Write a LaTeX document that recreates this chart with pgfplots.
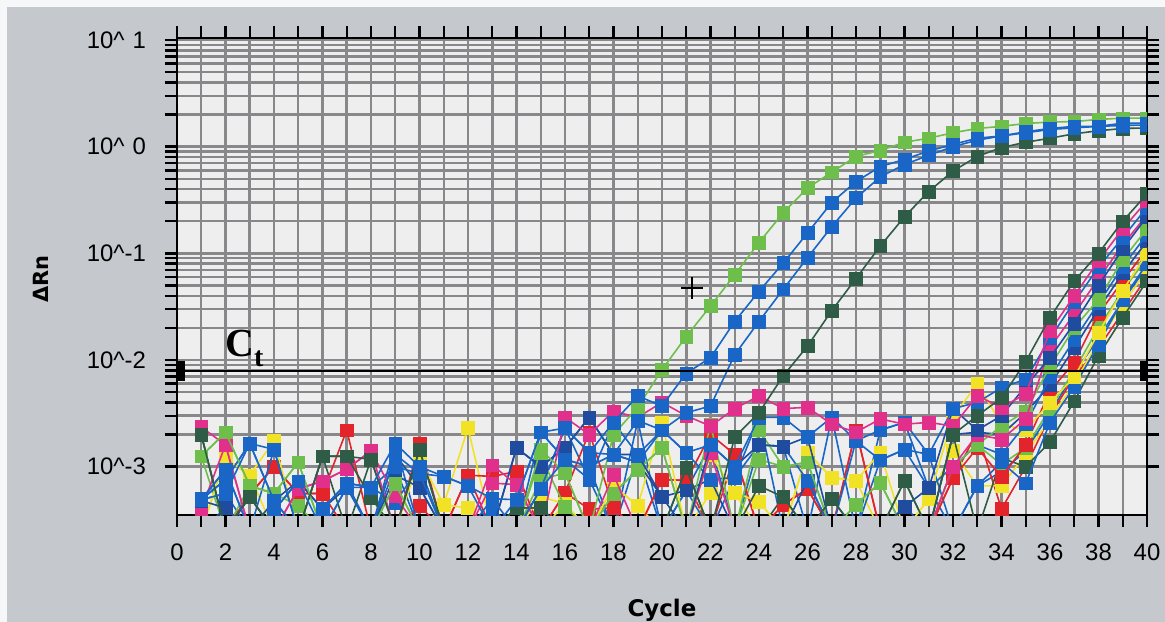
\documentclass[border=0pt]{standalone}
\usepackage{fontspec}
\setmainfont{Liberation Sans}
\newfontfamily\labfont{DejaVu Sans}
\newfontfamily\ctfont{Liberation Serif}
\usepackage{pgfplots}
\pgfplotsset{compat=1.18}
\usepackage{pgfplotstable}

\definecolor{pagegray}{HTML}{C5C8CD}
\definecolor{plotbg}{HTML}{EEEEEF}
\definecolor{gridgray}{HTML}{88888A}
\definecolor{cG}{HTML}{6DBE4B}
\definecolor{cB}{HTML}{1A66C6}
\definecolor{cDB}{HTML}{1F4C9E}
\definecolor{cDG}{HTML}{2F5C46}
\definecolor{cM}{HTML}{E0308C}
\definecolor{cY}{HTML}{F2E226}
\definecolor{cR}{HTML}{E3242B}

\pgfplotstableread{
c E1 E2 E3 E4
1 1.25e-3 4.9e-4 4.9e-4 2.0e-3
2 2.1e-3 5.6e-4 9.4e-4 2.5e-4
3 6.6e-4 1.65e-3 2.5e-4 5.2e-4
4 5.6e-4 4.8e-4 3.9e-4 2.5e-4
5 1.1e-3 2.5e-4 7.3e-4 2.5e-4
6 2.5e-4 4.0e-4 2.5e-4 1.25e-3
7 2.5e-4 7.0e-4 6.4e-4 1.25e-3
8 2.5e-4 6.4e-4 2.5e-4 1.17e-3
9 6.9e-4 1.65e-3 1.3e-3 2.5e-4
10 2.5e-4 1.0e-3 8.6e-4 1.45e-3
11 2.5e-4 8.1e-4 2.5e-4 2.5e-4
12 2.5e-4 6.6e-4 2.5e-4 2.5e-4
13 2.5e-4 5e-4 5e-4 2.5e-4
14 2.5e-4 4.9e-4 2.5e-4 4.1e-4
15 1.45e-3 2.1e-3 6.2e-4 4.1e-4
16 8.7e-4 2.3e-3 1.17e-3 2.5e-4
17 2.5e-4 1.35e-3 1.0e-3 2.5e-4
18 2.0e-3 2.6e-3 1.3e-3 2.5e-4
19 3.6e-3 4.6e-3 2.7e-3 2.5e-4
20 8.1e-3 3.7e-3 2.2e-3 2.5e-4
21 0.0166 7.5e-3 3.2e-3 9.7e-4
22 0.032 0.0105 3.7e-3 2.5e-4
23 0.063 0.023 0.0112 1.9e-3
24 0.126 0.044 0.023 3.2e-3
25 0.24 0.081 0.046 7.1e-3
26 0.41 0.155 0.091 0.0135
27 0.575 0.30 0.178 0.029
28 0.81 0.47 0.33 0.058
29 0.92 0.65 0.52 0.117
30 1.1 0.76 0.68 0.22
31 1.2 0.91 0.83 0.38
32 1.35 1.05 1.0 0.59
33 1.48 1.2 1.15 0.81
34 1.55 1.26 1.26 0.98
35 1.65 1.38 1.35 1.1
36 1.7 1.48 1.45 1.2
37 1.72 1.55 1.5 1.32
38 1.8 1.55 1.55 1.41
39 1.85 1.66 1.58 1.48
40 1.85 1.66 1.6 1.5
}\early

\pgfplotstableread{
c L1 L2 L3 L4 L5 L6 L7 L8 L9 L10 L11 L12 L13 L14 L15 L16
1 2.0e-3 2.35e-3 5.0e-4 4.8e-4 4.0e-4 1.25e-3 4.9e-4 2.5e-4 2.5e-4 2.5e-4 4.9e-4 1.25e-3 2.0e-3 2.5e-4 2.5e-4 4.9e-4
2 2.5e-4 1.6e-3 7.5e-4 4.1e-4 1.6e-3 2.1e-3 9.4e-4 4.1e-4 1.2e-3 2.5e-4 7.5e-4 2.5e-4 2.5e-4 1.2e-3 2.5e-4 5.6e-4
3 5.2e-4 2.5e-4 1.65e-3 2.5e-4 2.5e-4 6.6e-4 2.5e-4 2.5e-4 8.3e-4 5.5e-4 1.65e-3 6.6e-4 5.2e-4 8.3e-4 5.5e-4 2.5e-4
4 2.5e-4 2.5e-4 1.45e-3 4.8e-4 2.5e-4 5.6e-4 1.45e-3 3.9e-4 1.75e-3 1.0e-3 4.8e-4 5.6e-4 2.5e-4 2.5e-4 1.0e-3 3.9e-4
5 2.5e-4 6.2e-4 2.5e-4 7.3e-4 6.2e-4 4.3e-4 2.5e-4 7.3e-4 2.5e-4 5.6e-4 2.5e-4 1.1e-3 2.5e-4 2.5e-4 5.6e-4 2.5e-4
6 1.25e-3 7.3e-4 4.0e-4 4.0e-4 7.3e-4 2.5e-4 2.5e-4 4.0e-4 2.5e-4 5.6e-4 2.5e-4 2.5e-4 1.25e-3 2.5e-4 5.6e-4 4.0e-4
7 1.25e-3 9.5e-4 7.0e-4 6.4e-4 9.5e-4 2.5e-4 6.4e-4 2.5e-4 2.5e-4 2.2e-3 2.5e-4 2.5e-4 2.5e-4 2.5e-4 2.5e-4 7.0e-4
8 5.1e-4 1.4e-3 6.4e-4 2.5e-4 1.4e-3 2.5e-4 6.4e-4 2.5e-4 2.5e-4 2.5e-4 2.5e-4 2.5e-4 1.17e-3 2.5e-4 2.5e-4 2.5e-4
9 2.5e-4 5.3e-4 1.0e-3 8.3e-4 2.5e-4 6.9e-4 4.6e-4 1.3e-3 2.5e-4 2.5e-4 1.65e-3 2.5e-4 2.5e-4 2.5e-4 2.5e-4 1.0e-3
10 1.45e-3 2.5e-4 8.6e-4 6.4e-4 2.5e-4 2.5e-4 1.0e-3 6.4e-4 1.2e-3 1.65e-3 2.5e-4 2.5e-4 2.5e-4 2.5e-4 4.3e-4 2.5e-4
11 2.5e-4 2.5e-4 8.1e-4 2.5e-4 2.5e-4 2.5e-4 2.5e-4 2.5e-4 4.4e-4 2.5e-4 2.5e-4 2.5e-4 2.5e-4 4.4e-4 2.5e-4 2.5e-4
12 2.5e-4 2.5e-4 6.6e-4 2.5e-4 2.5e-4 2.5e-4 2.5e-4 2.5e-4 4.1e-4 8.3e-4 2.5e-4 2.5e-4 2.5e-4 2.3e-3 8.3e-4 2.5e-4
13 2.5e-4 1.03e-3 2.5e-4 2.5e-4 7e-4 2.5e-4 4e-4 2.5e-4 2.5e-4 8.1e-4 2.5e-4 2.5e-4 2.5e-4 2.5e-4 2.5e-4 4e-4
14 4.1e-4 6.8e-4 4.9e-4 1.5e-3 6.8e-4 2.5e-4 2.5e-4 1.5e-3 2.5e-4 9e-4 2.5e-4 2.5e-4 2.5e-4 2.5e-4 2.5e-4 2.5e-4
15 4.1e-4 2.5e-4 2.1e-3 1.0e-3 2.5e-4 1.25e-3 6.2e-4 1.0e-3 5.2e-4 2.5e-4 2.1e-3 7.6e-4 4.1e-4 2.5e-4 2.5e-4 6.2e-4
16 2.5e-4 2.9e-3 1.17e-3 1.5e-3 2.5e-4 4.2e-4 2.3e-3 1.5e-3 4.5e-4 5.7e-4 1.17e-3 8.7e-4 2.5e-4 4.5e-4 5.7e-4 2.3e-3
17 2.5e-4 2.0e-3 7.6e-4 2.9e-3 2.5e-4 2.5e-4 1.35e-3 2.9e-3 2.5e-4 2.1e-3 1.0e-3 2.5e-4 2.5e-4 2.5e-4 4e-4 7.6e-4
18 2.5e-4 3.3e-3 2.6e-3 1.3e-3 8.4e-4 5.6e-4 1.3e-3 1.3e-3 6.6e-4 4.1e-4 2.5e-4 5.6e-4 2.5e-4 6.6e-4 4.1e-4 2.5e-4
19 2.5e-4 2.9e-3 1.3e-3 1.3e-3 2.5e-4 9.4e-4 1.1e-3 1.1e-3 4.3e-4 2.5e-4 2.7e-3 9.4e-4 2.5e-4 4.3e-4 2.5e-4 1.3e-3
20 2.5e-4 4.0e-3 2.2e-3 5.2e-4 2.5e-4 1.5e-3 2.2e-3 5.2e-4 2.6e-3 7.6e-4 2.5e-4 1.5e-3 2.5e-4 2.5e-4 7.6e-4 2.5e-4
21 9.7e-4 3.0e-3 1.35e-3 2.5e-4 2.5e-4 2.5e-4 1.35e-3 6e-4 2.5e-4 7.4e-4 6e-4 2.5e-4 2.5e-4 2.5e-4 7.4e-4 6e-4
22 2.5e-4 2.4e-3 1.6e-3 1.6e-3 1.35e-3 2.5e-3 7.6e-4 7.6e-4 1.3e-3 2.0e-3 2.5e-4 2.5e-4 2.5e-4 5.7e-4 2.5e-4 1.6e-3
23 2.5e-4 3.5e-3 1.0e-3 1.0e-3 2.5e-4 2.5e-4 7.9e-4 2.5e-4 5.7e-4 1.3e-3 7.9e-4 2.5e-4 2.5e-4 5.7e-4 1.3e-3 2.5e-4
24 6.6e-4 4.6e-3 2.9e-3 1.6e-3 2.5e-4 2.2e-3 1.6e-3 2.5e-4 4.7e-4 2.5e-4 2.9e-3 1.17e-3 2.5e-4 2.5e-4 2.5e-4 1.6e-3
25 5.2e-4 3.5e-3 2.9e-3 1.55e-3 2.5e-4 1.0e-3 1.55e-3 2.5e-4 2.5e-4 4.4e-4 2.5e-4 1.0e-3 5.2e-4 2.5e-4 4.4e-4 1.55e-3
26 2.5e-4 3.6e-3 1.9e-3 1.9e-3 2.5e-4 1.1e-3 7.4e-4 7.4e-4 1.35e-3 6.2e-4 2.5e-4 1.1e-3 2.5e-4 1.35e-3 6.2e-4 2.5e-4
27 5e-4 2.5e-3 2.9e-3 2.5e-4 2.5e-4 2.5e-4 2.5e-4 2.5e-4 7.9e-4 2.5e-4 2.9e-3 2.5e-4 5e-4 7.9e-4 2.5e-4 2.5e-4
28 2.5e-4 2.1e-3 1.75e-3 2.5e-4 2.5e-4 4.4e-4 1.75e-3 2.5e-4 7.4e-4 2.2e-3 2.5e-4 4.4e-4 2.5e-4 7.4e-4 2.2e-3 2.5e-4
29 2.5e-4 2.8e-3 2.2e-3 2.5e-4 2.5e-4 7.1e-4 1.15e-3 2.5e-4 1.35e-3 2.5e-4 1.15e-3 7.1e-4 2.5e-4 2.5e-4 2.5e-4 2.2e-3
30 7.4e-4 2.5e-3 2.6e-3 4.2e-4 2.5e-4 2.5e-4 1.45e-3 4.2e-4 2.5e-4 2.5e-4 1.45e-3 2.5e-4 7.4e-4 2.5e-4 2.5e-4 2.6e-3
31 2.5e-4 2.6e-3 1.3e-3 6.3e-4 2.5e-4 2.5e-4 6.3e-4 2.5e-4 5e-4 2.5e-4 1.3e-3 2.5e-4 2.5e-4 5e-4 2.5e-4 6.3e-4
32 2.0e-3 2.4e-3 3.5e-3 3.5e-3 1.0e-3 1.0e-3 1.0e-3 2.0e-3 2.9e-3 7.8e-4 2.5e-4 1.0e-3 2.0e-3 1.4e-3 7.8e-4 2.5e-4
33 3.0e-3 4.6e-3 4.0e-3 2.2e-3 2.0e-3 1.6e-3 1.6e-3 2.1e-3 6.0e-3 1.5e-3 6.6e-4 1.6e-3 2.5e-4 6.6e-4 2.1e-3 6.6e-4
34 4.4e-3 3.6e-3 5.5e-3 3.0e-3 1.8e-3 2.4e-3 1.3e-3 2.0e-3 2.5e-3 8e-4 1.1e-3 1.05e-3 1.2e-3 6.6e-4 4e-4 9e-4
35 9.7e-3 4.8e-3 6.6e-3 5.7e-3 2.8e-3 3.3e-3 2.5e-3 3.2e-3 2.2e-3 1.6e-3 7e-4 1.5e-3 1.0e-3 1.3e-3 1.0e-3 1.4e-3
36 0.025 0.0186 0.016 0.0105 0.013 8.7e-3 6.9e-3 5.8e-3 4.0e-3 5.1e-3 2.6e-3 3.5e-3 1.7e-3 2.8e-3 3.0e-3 3.2e-3
37 0.055 0.040 0.035 0.022 0.027 0.020 0.0155 0.013 6.9e-3 9.5e-3 5.6e-3 8e-3 4.1e-3 6e-3 7e-3 7.5e-3
38 0.10 0.085 0.074 0.05 0.058 0.037 0.034 0.03 0.018 0.027 0.014 0.02 0.011 0.015 0.013 0.016
39 0.20 0.17 0.14 0.11 0.12 0.087 0.075 0.065 0.045 0.055 0.037 0.045 0.025 0.033 0.028 0.036
40 0.36 0.31 0.27 0.22 0.23 0.17 0.15 0.13 0.10 0.11 0.08 0.09 0.055 0.07 0.06 0.075
}\late

\pgfplotsset{
  sq/.style={#1, mark=square*, mark size=3.2bp, line width=0.8bp,
    mark options={solid, line width=0.2bp, fill=#1, draw=#1}},
}

\begin{document}
\begin{tikzpicture}
\path[use as bounding box, fill=pagegray] (-88.5bp,-53.5bp) rectangle (494bp,257.5bp);
\fill[white!85!pagegray] (-88.5bp,-53.5bp) rectangle (-85bp,257.5bp);
\fill[white!85!pagegray] (-88.5bp,254bp) rectangle (494bp,257.5bp);
\begin{axis}[
  scale only axis, width=485bp, height=238.5bp,
  xmin=0, xmax=40,
  ymode=log, ymin=3.52e-4, ymax=10.44,
  xtick={0,2,...,40}, minor xtick={1,3,...,39},
  ytick={1e-3,1e-2,1e-1,1,10},
  yticklabels={10\textasciicircum-3,10\textasciicircum-2,10\textasciicircum-1,10\textasciicircum\phantom{-}0,10\textasciicircum\phantom{-}1},
  grid=both,
  major grid style={gridgray, line width=1.25bp},
  minor grid style={gridgray, line width=1.25bp},
  tick align=outside,
  major tick length=6bp, minor tick length=6bp,
  tick style={black, line width=1.2bp},
  axis line style={black, line width=1.2bp},
  axis background/.style={fill=plotbg},
  clip marker paths=true,
  /pgf/number format/assume math mode=true,
  ticklabel style={font=\fontsize{12}{14}\selectfont},
  xticklabel style={yshift=-5bp},
  yticklabel style={xshift=-6bp},
  xlabel={Cycle},
  ylabel={ΔRn},
  xlabel style={font=\labfont\bfseries\fontsize{11.5}{13}\selectfont, at={(rel axis cs:0.5,-0.2138)}, anchor=base},
  ylabel style={font=\labfont\bfseries\fontsize{10.5}{12}\selectfont, at={(rel axis cs:-0.14,0.4948)}, anchor=center},
]
\addplot[sq=cB]  table[x=c, y=L16] {\late};
\addplot[sq=cR]  table[x=c, y=L15] {\late};
\addplot[sq=cY]  table[x=c, y=L14] {\late};
\addplot[sq=cDG] table[x=c, y=L13] {\late};
\addplot[sq=cG]  table[x=c, y=L12] {\late};
\addplot[sq=cB]  table[x=c, y=L11] {\late};
\addplot[sq=cR]  table[x=c, y=L10] {\late};
\addplot[sq=cY]  table[x=c, y=L9] {\late};
\addplot[sq=cDB] table[x=c, y=L8] {\late};
\addplot[sq=cB]  table[x=c, y=L7] {\late};
\addplot[sq=cG]  table[x=c, y=L6] {\late};
\addplot[sq=cM]  table[x=c, y=L5] {\late};
\addplot[sq=cDB] table[x=c, y=L4] {\late};
\addplot[sq=cB]  table[x=c, y=L3] {\late};
\addplot[sq=cM]  table[x=c, y=L2] {\late};
\addplot[sq=cDG] table[x=c, y=L1] {\late};
\addplot[sq=cG]  table[x=c, y=E1] {\early};
\addplot[sq=cDG] table[x=c, y=E4] {\early};
\addplot[sq=cB]  table[x=c, y=E3] {\early};
\addplot[sq=cB]  table[x=c, y=E2] {\early};
% threshold
\addplot[black, line width=1.1bp, mark=none] coordinates {(0,0.0079) (40,0.0079)};
\addplot[black, only marks, mark=square*, mark size=1.8bp, mark options={yscale=2.7}] coordinates {(0.16,0.0079) (39.86,0.0079)};
% cross marker
\addplot[black, only marks, mark=+, mark size=5.5bp, mark options={line width=0.7bp}] coordinates {(21.24,0.0473)};
\node[anchor=base west, inner sep=0pt, font=\ctfont\bfseries\fontsize{20}{20}\selectfont] at (axis cs:1.98,0.0107) {C\raisebox{-5bp}{\fontsize{14}{14}\selectfont t}};
\end{axis}
\end{tikzpicture}
\end{document}
